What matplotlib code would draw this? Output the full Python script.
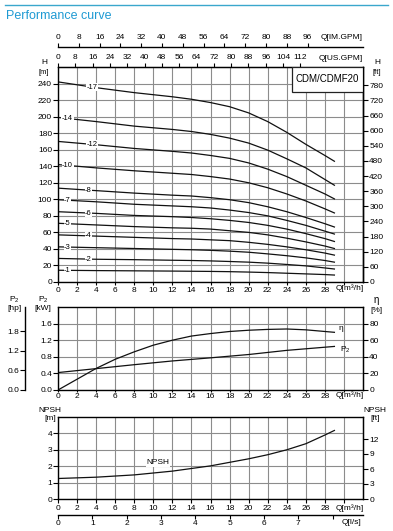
import numpy as np
import matplotlib
matplotlib.use('Agg')
import matplotlib.pyplot as plt
from matplotlib.patches import Rectangle
from matplotlib.lines import Line2D

plt.rcParams['font.family'] = ['Liberation Sans', 'DejaVu Sans']
plt.rcParams['mathtext.default'] = 'regular'

# ---------------- data ----------------
Q = [0, 4, 8, 12, 14, 16, 18, 20, 22, 24, 26, 28, 29]
stages = ['17', '14', '12', '10', '8', '7', '6', '5', '4', '3', '2', '1']
H17 = [242, 235, 229, 224, 221, 217, 212, 204.5, 194, 181, 166.5, 153, 146]
H14 = [199, 194, 188.5, 184.5, 182, 178.5, 174, 168, 159.5, 149, 138, 124, 117]
H12 = [170, 166, 161.5, 158, 156, 153, 149.5, 144, 136.5, 127.5, 117, 106.5, 100.5]
H10 = [142, 138, 134.5, 131.5, 130, 127.5, 124.5, 120, 114, 106.5, 98, 88.5, 83.5]
H8 = [113.5, 110.5, 107.5, 105, 104, 102, 99.5, 96, 91, 85, 78, 70.5, 66.5]
H7 = [99.5, 97, 94, 92, 91, 89.5, 87, 84, 80, 74.5, 68.5, 61.5, 58]
H6 = [85, 83, 80.5, 79, 78, 76.5, 74.5, 72, 68.5, 64, 58.5, 52.5, 49]
H5 = [71, 69, 67, 65.5, 65, 64, 62, 60, 57, 53, 48.5, 43.5, 40.5]
H4 = [57, 55.5, 54, 52.5, 52, 51, 50, 48, 45.5, 42.5, 39, 35, 32.5]
H3 = [42.5, 41.5, 40.5, 39.5, 39, 38.3, 37.3, 36, 34, 31.8, 29.2, 26, 24]
H2 = [28.5, 27.5, 27, 26.3, 26, 25.5, 24.8, 24, 22.8, 21.2, 19.5, 17, 15.7]
H1 = [14.2, 13.8, 13.5, 13.2, 13, 12.8, 12.5, 12, 11.4, 10.6, 9.8, 9.0, 8.4]
heads = [H17, H14, H12, H10, H8, H7, H6, H5, H4, H3, H2, H1]

Q_eta = [0, 2, 4, 6, 8, 10, 12, 14, 16, 18, 20, 22, 24, 26, 28, 29]
eta = [0, 13, 26, 37, 46, 54, 60, 65, 68, 70.5, 72, 73, 73.5, 72.5, 70.5, 69.5]
Q_p = [0, 4, 8, 12, 16, 20, 24, 29]
P2 = [0.42, 0.515, 0.61, 0.70, 0.775, 0.855, 0.955, 1.05]
Q_npsh = [0, 4, 8, 12, 16, 20, 22, 24, 26, 28, 29]
npsh = [1.25, 1.33, 1.47, 1.70, 2.02, 2.45, 2.7, 3.0, 3.37, 3.9, 4.18]

model = 'CDM/CDMF20'
title = 'Performance curve'

# ---------------- layout helpers ----------------
W, Hh = 393, 531
def fx(p): return p / W
def fy(p): return 1 - p / Hh

fig = plt.figure(figsize=(W / 100, Hh / 100), dpi=100)
fig.patch.set_facecolor('white')

TS = 6
GRID = dict(color='#8c8c8c', lw=0.8)
CURVE = dict(color='#111111', lw=0.9)

fig.add_artist(Line2D([fx(5), fx(388)], [fy(5), fy(5)], color='#3aa7cc', lw=1.0))
fig.text(fx(6), fy(16), title, color='#1f9ad3', fontsize=9, va='center', ha='left')

L, R = 58, 363
def make_ax(top, bot):
    a = fig.add_axes([fx(L), fy(bot), (R - L) / W, (bot - top) / Hh])
    for s in a.spines.values():
        s.set_linewidth(1.0)
        s.set_color('black')
    a.set_axisbelow(True)
    return a

xt = np.arange(0, 31, 2)
xtl = [str(v) for v in xt[:-1]] + ['']

# ---------------- main H chart ----------------
ax = make_ax(67, 282)
ax.set_xlim(0, 32)
ax.set_ylim(0, 260)
ax.set_xticks(xt)
ax.set_xticklabels(xtl)
ax.set_yticks(np.arange(0, 241, 20))
ax.grid(True, **GRID)
ax.tick_params(axis='x', length=2, pad=1.5, labelsize=TS)
ax.tick_params(axis='y', length=3.5, pad=0.8, labelsize=TS)

label_q = [3.6, 1.0, 3.6, 1.0, 3.2, 1.0, 3.2, 1.0, 3.2, 1.0, 3.2, 1.0]
for st, h, lq in zip(stages, heads, label_q):
    ax.plot(Q, h, **CURVE)
    yv = np.interp(lq, Q, h)
    ax.text(lq, yv, '-' + st, fontsize=5.5, ha='center', va='center',
            bbox=dict(facecolor='white', edgecolor='none', pad=0.4), zorder=5)

ax.add_patch(Rectangle((0.766, 0.885), 0.234, 0.115, transform=ax.transAxes,
                       facecolor='white', edgecolor='#222222', lw=0.9, zorder=6))
ax.text(0.883, 0.9425, model, transform=ax.transAxes, fontsize=7,
        ha='center', va='center', zorder=7)

ft = ax.secondary_yaxis('right', functions=(lambda m: m * 3.28, lambda f: f / 3.28))
ft.set_yticks(np.arange(0, 781, 60))
ft.tick_params(length=3.5, pad=1, labelsize=TS)
ft.spines['right'].set_linewidth(1.0)

us = ax.secondary_xaxis('top', functions=(lambda q: q * 4.4029, lambda g: g / 4.4029))
us.set_xticks(np.arange(0, 113, 8))
us.tick_params(length=3, pad=1, labelsize=TS)

im = ax.secondary_xaxis(1 + 20 / 215, functions=(lambda q: q * 3.6662, lambda g: g / 3.6662))
im.set_xticks(np.arange(0, 97, 8))
im.tick_params(length=3, pad=1, labelsize=TS)
im.spines['top'].set_linewidth(1.0)

fig.text(fx(363), fy(58), 'Q[US.GPM]', fontsize=TS, ha='right', va='center')
fig.text(fx(363), fy(37), 'Q[IM.GPM]', fontsize=TS, ha='right', va='center')
fig.text(fx(44), fy(62), 'H', fontsize=TS, ha='center', va='center')
fig.text(fx(44), fy(72), '[m]', fontsize=5.5, ha='center', va='center')
fig.text(fx(377), fy(62), 'H', fontsize=TS, ha='center', va='center')
fig.text(fx(377), fy(72), '[ft]', fontsize=5.5, ha='center', va='center')
fig.text(fx(336), fy(288.5), 'Q[m³/h]', fontsize=TS, ha='left', va='center')

# ---------------- power / efficiency chart ----------------
ax2 = make_ax(307, 390)
ax2.set_xlim(0, 32)
ax2.set_ylim(0, 2.0)
ax2.set_xticks(xt)
ax2.set_xticklabels(xtl)
ax2.set_yticks(np.arange(0, 1.61, 0.4))
ax2.set_yticklabels(['%.1f' % v for v in np.arange(0, 1.61, 0.4)])
ax2.grid(True, **GRID)
ax2.tick_params(axis='x', length=1.5, pad=1, labelsize=TS)
ax2.tick_params(axis='y', length=3.5, pad=0.8, labelsize=TS)
ax2.plot(Q_p, P2, **CURVE)
ax2.plot(Q_eta, np.array(eta) / 50.0, **CURVE)
ax2.text(29.4, eta[-1] / 50.0 + 0.1, 'η', fontsize=TS, ha='left', va='center')
ax2.text(29.6, P2[-1] - 0.08, 'P$_2$', fontsize=TS, ha='left', va='center')

eta_ax = ax2.secondary_yaxis('right', functions=(lambda k: k * 50, lambda e: e / 50))
eta_ax.set_yticks(np.arange(0, 81, 20))
eta_ax.tick_params(length=3.5, pad=1, labelsize=TS)

hp = ax2.secondary_yaxis(-33 / 305, functions=(lambda k: k * 1.27, lambda h: h / 1.27))
hp.set_yticks([0, 0.6, 1.2, 1.8])
hp.set_yticklabels(['0.0', '0.6', '1.2', '1.8'])
hp.tick_params(length=3.5, pad=0.8, labelsize=TS)
hp.spines['left'].set_linewidth(1.0)

fig.text(fx(14), fy(300), 'P$_2$', fontsize=TS, ha='center', va='center')
fig.text(fx(14), fy(309), '[hp]', fontsize=TS, ha='center', va='center')
fig.text(fx(43), fy(300), 'P$_2$', fontsize=TS, ha='center', va='center')
fig.text(fx(43), fy(309), '[kW]', fontsize=TS, ha='center', va='center')
fig.text(fx(376), fy(300), 'η', fontsize=TS + 1, ha='center', va='center')
fig.text(fx(376), fy(310), '[%]', fontsize=TS, ha='center', va='center')
fig.text(fx(336), fy(395.5), 'Q[m³/h]', fontsize=TS, ha='left', va='center')

# ---------------- NPSH chart ----------------
ax3 = make_ax(417, 499)
ax3.set_xlim(0, 32)
ax3.set_ylim(0, 5)
ax3.set_xticks(xt)
ax3.set_xticklabels(xtl)
ax3.set_yticks(np.arange(0, 5, 1))
ax3.grid(True, **GRID)
ax3.tick_params(axis='x', length=3, pad=1.5, labelsize=TS)
ax3.tick_params(axis='y', length=3.5, pad=0.8, labelsize=TS)
ax3.plot(Q_npsh, npsh, **CURVE)
ax3.text(10.5, 2.2, 'NPSH', fontsize=TS, ha='center', va='center',
         bbox=dict(facecolor='white', edgecolor='none', pad=0.4), zorder=5)

nft = ax3.secondary_yaxis('right', functions=(lambda m: m * 3.28, lambda f: f / 3.28))
nft.set_yticks(np.arange(0, 13, 3))
nft.tick_params(length=3.5, pad=1, labelsize=TS)

ls = ax3.secondary_xaxis(-16 / 82, functions=(lambda q: q / 3.6, lambda l: l * 3.6))
ls.set_xticks(np.arange(0, 9, 1))
ls.set_xticklabels([str(v) for v in range(8)] + [''])
ls.tick_params(length=3, pad=0.5, labelsize=TS)
ls.spines['bottom'].set_linewidth(1.0)

fig.text(fx(50), fy(410), 'NPSH', fontsize=TS, ha='center', va='center')
fig.text(fx(50), fy(419), '[m]', fontsize=TS, ha='center', va='center')
fig.text(fx(375), fy(410), 'NPSH', fontsize=TS, ha='center', va='center')
fig.text(fx(375), fy(419), '[ft]', fontsize=TS, ha='center', va='center')
fig.text(fx(336), fy(508.5), 'Q[m³/h]', fontsize=TS, ha='left', va='center')
fig.text(fx(342), fy(522), 'Q[l/s]', fontsize=TS, ha='left', va='center')

fig.savefig('out.png', dpi=100)
